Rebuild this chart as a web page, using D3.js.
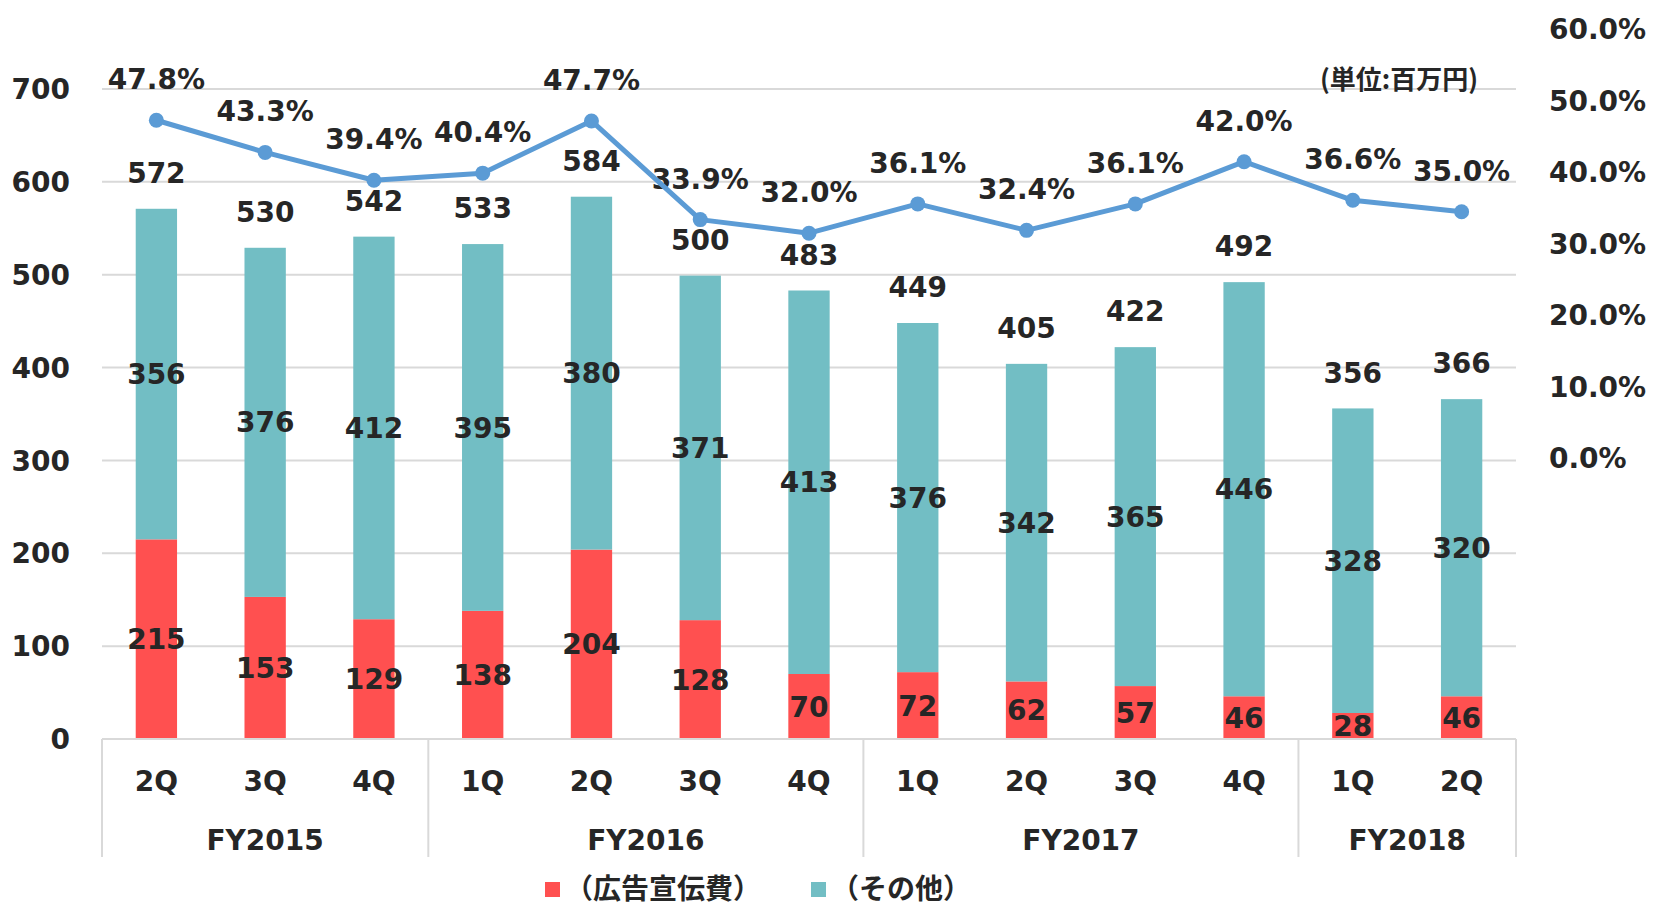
<!DOCTYPE html>
<html>
<head>
<meta charset="utf-8">
<script src="https://cdn.jsdelivr.net/npm/d3@7"></script>
<style>
  body { margin: 0; background: #fff; }
  svg text { font-family: "DejaVu Sans", Verdana, sans-serif; font-weight: bold; fill: #262626; }
  svg text.jp { font-family: "Noto Sans CJK JP", sans-serif; }
</style>
</head>
<body>
<div id="chart"></div>
<script>
// data
const quarters = ["2Q", "3Q", "4Q", "1Q", "2Q", "3Q", "4Q", "1Q", "2Q", "3Q", "4Q", "1Q", "2Q"];
const years = [
  {label: "FY2015", count: 3},
  {label: "FY2016", count: 4},
  {label: "FY2017", count: 4},
  {label: "FY2018", count: 2}
];
const adCost = [215, 153, 129, 138, 204, 128, 70, 72, 62, 57, 46, 28, 46];
const otherCost = [356, 376, 412, 395, 380, 371, 413, 376, 342, 365, 446, 328, 320];
const totals = [572, 530, 542, 533, 584, 500, 483, 449, 405, 422, 492, 356, 366];
const ratio = [47.8, 43.3, 39.4, 40.4, 47.7, 33.9, 32.0, 36.1, 32.4, 36.1, 42.0, 36.6, 35.0];
const leftTicks = [0, 100, 200, 300, 400, 500, 600, 700];
const rightTicks = [0, 10, 20, 30, 40, 50, 60];
const legendNames = ["（広告宣伝費）", "（その他）"];

const W = 1655, H = 908;
const colors = {ad: "#FF5050", other: "#72BEC4", line: "#5B9BD5", grid: "#D9D9D9"};
const fs = "28px";

const svg = d3.select("#chart").append("svg")
  .attr("width", W).attr("height", H);

const idx = quarters.map((d, i) => i);

// scales
const x = d3.scaleBand()
  .domain(idx)
  .range([102, 1516])
  .paddingInner(0.62)
  .paddingOuter(0.31);

const y = d3.scaleLinear()
  .domain([0, 700])
  .range([739, 89]);

const y2 = d3.scaleLinear()
  .domain([0, 60])
  .range([462, 33]);

// gridlines
svg.append("g")
  .selectAll("line")
  .data(leftTicks.filter(d => d > 0))
  .enter().append("line")
  .attr("x1", 102).attr("x2", 1516)
  .attr("y1", d => y(d)).attr("y2", d => y(d))
  .attr("stroke", colors.grid).attr("stroke-width", 2);

// left axis labels
svg.append("g")
  .selectAll("text")
  .data(leftTicks)
  .enter().append("text")
  .attr("x", 70)
  .attr("y", d => y(d))
  .attr("dy", "0.36em")
  .attr("text-anchor", "end")
  .style("font-size", fs)
  .text(d => d);

// right axis labels
svg.append("g")
  .selectAll("text")
  .data(rightTicks)
  .enter().append("text")
  .attr("x", 1549)
  .attr("y", d => y2(d) - 4)
  .attr("dy", "0.36em")
  .attr("text-anchor", "start")
  .style("font-size", fs)
  .text(d => d.toFixed(1) + "%");

// stacked bars
const bars = svg.append("g");
bars.selectAll(".ad")
  .data(idx)
  .enter().append("rect")
  .attr("class", "ad")
  .attr("x", i => x(i))
  .attr("width", x.bandwidth())
  .attr("y", i => y(adCost[i]))
  .attr("height", i => y(0) - y(adCost[i]))
  .attr("fill", colors.ad);

bars.selectAll(".other")
  .data(idx)
  .enter().append("rect")
  .attr("class", "other")
  .attr("x", i => x(i))
  .attr("width", x.bandwidth())
  .attr("y", i => y(adCost[i] + otherCost[i]))
  .attr("height", i => y(adCost[i]) - y(adCost[i] + otherCost[i]))
  .attr("fill", colors.other);

// category axis
const axisY = y(0);
svg.append("line")
  .attr("x1", 102).attr("x2", 1516)
  .attr("y1", axisY).attr("y2", axisY)
  .attr("stroke", colors.grid).attr("stroke-width", 2);

let start = 0;
const yearPos = years.map(g => {
  const first = start, last = start + g.count - 1;
  start += g.count;
  return {label: g.label, x0: x(first) - x.step() * x.paddingInner() / 2, x1: x(last) + x.bandwidth() + x.step() * x.paddingInner() / 2};
});
const seps = [yearPos[0].x0].concat(yearPos.map(d => d.x1));
svg.append("g")
  .selectAll("line")
  .data(seps)
  .enter().append("line")
  .attr("x1", d => d).attr("x2", d => d)
  .attr("y1", axisY).attr("y2", 857)
  .attr("stroke", colors.grid).attr("stroke-width", 2);

svg.append("g")
  .selectAll("text")
  .data(idx)
  .enter().append("text")
  .attr("x", i => x(i) + x.bandwidth() / 2)
  .attr("y", 781)
  .attr("dy", "0.36em")
  .attr("text-anchor", "middle")
  .style("font-size", fs)
  .text(i => quarters[i]);

svg.append("g")
  .selectAll("text")
  .data(yearPos)
  .enter().append("text")
  .attr("x", d => (d.x0 + d.x1) / 2)
  .attr("y", 840)
  .attr("dy", "0.36em")
  .attr("text-anchor", "middle")
  .style("font-size", fs)
  .text(d => d.label);

// bar labels
const labels = svg.append("g").style("font-size", fs).attr("text-anchor", "middle");
labels.selectAll(".lad")
  .data(idx)
  .enter().append("text")
  .attr("x", i => x(i) + x.bandwidth() / 2)
  .attr("y", i => (y(0) + y(adCost[i])) / 2)
  .attr("dy", "0.36em")
  .text(i => adCost[i]);

labels.selectAll(".lother")
  .data(idx)
  .enter().append("text")
  .attr("x", i => x(i) + x.bandwidth() / 2)
  .attr("y", i => (y(adCost[i]) + y(adCost[i] + otherCost[i])) / 2)
  .attr("dy", "0.36em")
  .text(i => otherCost[i]);

labels.selectAll(".ltot")
  .data(idx)
  .enter().append("text")
  .attr("x", i => x(i) + x.bandwidth() / 2)
  .attr("y", i => y(adCost[i] + otherCost[i]) - 36)
  .attr("dy", "0.36em")
  .text(i => totals[i]);

// ratio line
const line = d3.line()
  .x(i => x(i) + x.bandwidth() / 2)
  .y(i => y2(ratio[i]));

svg.append("path")
  .datum(idx)
  .attr("d", line)
  .attr("fill", "none")
  .attr("stroke", colors.line)
  .attr("stroke-width", 5)
  .attr("stroke-linejoin", "round");

svg.append("g")
  .selectAll("circle")
  .data(idx)
  .enter().append("circle")
  .attr("cx", i => x(i) + x.bandwidth() / 2)
  .attr("cy", i => y2(ratio[i]))
  .attr("r", 7.5)
  .attr("fill", colors.line);

labels.selectAll(".lpct")
  .data(idx)
  .enter().append("text")
  .attr("x", i => x(i) + x.bandwidth() / 2)
  .attr("y", i => y2(ratio[i]) - 41)
  .attr("dy", "0.36em")
  .text(i => ratio[i].toFixed(1) + "%");

// unit note
svg.append("text")
  .attr("class", "jp")
  .attr("x", 1399)
  .attr("y", 80)
  .attr("dy", "0.36em")
  .attr("text-anchor", "middle")
  .style("font-size", "26px")
  .text("(単位:百万円)");

// legend
const legend = svg.append("g");
const legendX = [545, 811];
const legendColors = [colors.ad, colors.other];
legend.selectAll("rect")
  .data(legendNames)
  .enter().append("rect")
  .attr("x", (d, i) => legendX[i])
  .attr("y", 882)
  .attr("width", 15).attr("height", 15)
  .attr("fill", (d, i) => legendColors[i]);

legend.selectAll("text")
  .data(legendNames)
  .enter().append("text")
  .attr("class", "jp")
  .attr("x", (d, i) => legendX[i] + 20)
  .attr("y", 889)
  .attr("dy", "0.36em")
  .style("font-size", "28px")
  .text(d => d);
</script>
</body>
</html>
